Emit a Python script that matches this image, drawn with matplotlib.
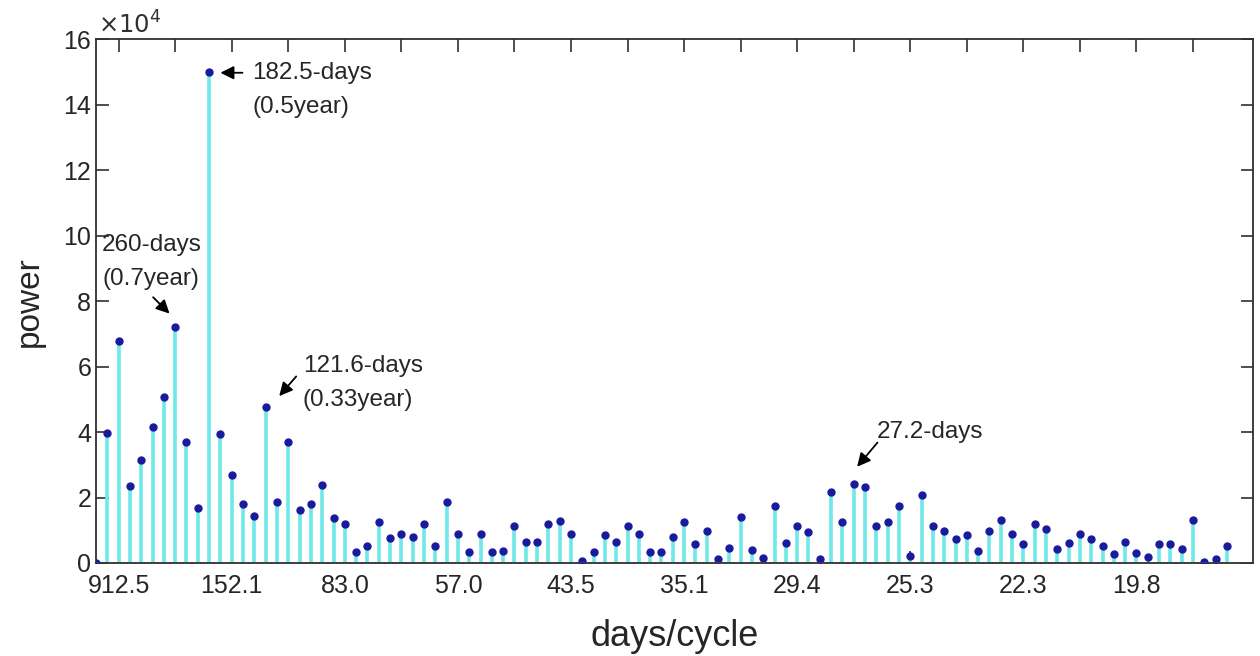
import matplotlib
matplotlib.use("Agg")
import matplotlib.pyplot as plt
import numpy as np

plt.rcParams["font.family"] = ["Liberation Sans", "DejaVu Sans"]

# spectral power per frequency index (units of 1e4)
power_e4 = [
    0.00, 3.98, 6.79, 2.36, 3.16, 4.16, 5.08, 7.22, 3.70, 1.68,
    15.00, 3.93, 2.70, 1.79, 1.44, 4.77, 1.87, 3.70, 1.61, 1.79,
    2.38, 1.36, 1.20, 0.34, 0.52, 1.25, 0.76, 0.90, 0.80, 1.18,
    0.52, 1.87, 0.88, 0.34, 0.90, 0.34, 0.37, 1.12, 0.64, 0.64,
    1.18, 1.27, 0.90, 0.05, 0.34, 0.85, 0.64, 1.13, 0.90, 0.34,
    0.34, 0.80, 1.25, 0.59, 0.98, 0.11, 0.46, 1.41, 0.39, 0.15,
    1.74, 0.62, 1.12, 0.95, 0.11, 2.17, 1.25, 2.40, 2.32, 1.13,
    1.25, 1.74, 0.20, 2.09, 1.13, 0.98, 0.72, 0.85, 0.38, 0.98,
    1.30, 0.90, 0.59, 1.20, 1.05, 0.42, 0.61, 0.88, 0.74, 0.51,
    0.27, 0.64, 0.29, 0.18, 0.59, 0.59, 0.44, 1.30, 0.03, 0.11,
    0.51,
]
freq_index = np.arange(len(power_e4))

tick_index = list(range(2, 98, 5))
tick_labels = ["912.5", "", "152.1", "", "83.0", "", "57.0", "", "43.5", "",
               "35.1", "", "29.4", "", "25.3", "", "22.3", "", "19.8", ""]
ytick_values = [0, 2, 4, 6, 8, 10, 12, 14, 16]

# label, text anchor (x, top y), arrow tail, arrow head
peak_notes = [
    ("182.5-days\n(0.5year)", (13.8, 15.3), (12.95, 14.98), (11.0, 14.98)),
    ("260-days\n(0.7year)", (0.55, 10.05), (5.05, 8.12), (6.5, 7.62)),
    ("121.6-days\n(0.33year)", (18.3, 6.35), (17.7, 5.70), (16.2, 5.10)),
    ("27.2-days", (69.0, 4.35), (69.1, 3.68), (67.3, 2.94)),
]

fig = plt.figure(figsize=(12.6, 6.56), dpi=100)
ax = fig.add_axes([0.0762, 0.1418, 0.9182, 0.7982])

ax.vlines(freq_index, 0, power_e4, colors="#6ee8e8", linewidth=2.6, zorder=2)
ax.plot(freq_index, power_e4, linestyle="none", marker="o", markersize=5,
        color="#1a1a9c", zorder=3)
ax.axhline(0, color="#404040", linewidth=2, zorder=4)

ax.set_xlim(0, 102.3)
ax.set_ylim(0, 16)
ax.set_xticks(tick_index)
ax.set_xticklabels(tick_labels)
ax.set_yticks(ytick_values)
ax.set_yticklabels([str(v) for v in ytick_values])
ax.tick_params(direction="in", length=9, width=1.2, labelsize=18,
               top=True, right=True, colors="#303030", labelcolor="#262626")
ax.tick_params(axis="x", pad=8)
for s in ax.spines.values():
    s.set_color("#303030")
    s.set_linewidth(1.3)

ax.set_xlabel("days/cycle", fontsize=26, color="#262626", labelpad=15)
ax.set_ylabel("power", fontsize=24, color="#262626", labelpad=13)
ax.text(0.002, 1.002, r"$\times10^4$", transform=ax.transAxes, fontsize=17.5,
        color="#303030", ha="left", va="bottom")

for label, (tx, ty), tail, head in peak_notes:
    ax.text(tx, ty, label, fontsize=17.5, color="#262626", ha="left", va="top",
            linespacing=1.7)
    ax.annotate("", xy=head, xytext=tail,
                arrowprops=dict(arrowstyle="-|>,head_length=0.8,head_width=0.4",
                                color="black", linewidth=1.3, shrinkA=0, shrinkB=0))

fig.savefig("out.png", dpi=100)
